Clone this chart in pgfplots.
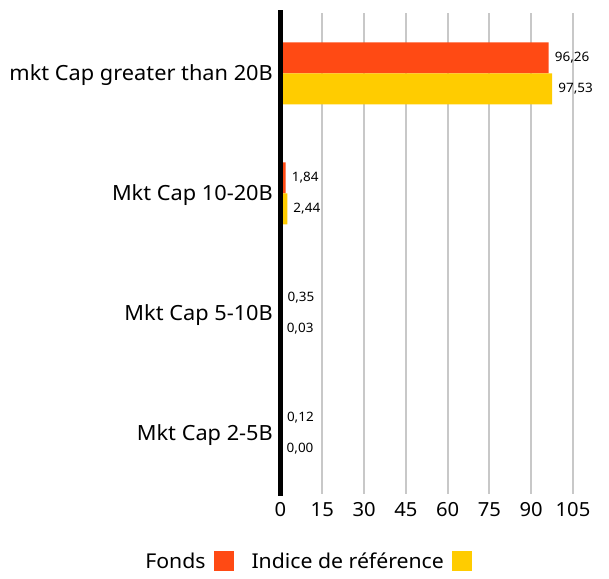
\documentclass[border=0pt]{standalone}
\usepackage{fontspec}
\setmainfont{Noto Sans}[FakeStretch=1.04]
\usepackage{pgfplots}
\pgfplotsset{compat=1.18}
\definecolor{fonds}{RGB}{255,74,20}
\definecolor{indice}{RGB}{255,204,0}
\definecolor{gridc}{RGB}{200,200,200}
\begin{document}
\begin{tikzpicture}
\useasboundingbox (0,0) rectangle (609bp,579bp);
\begin{axis}[
  at={(280.5bp,85.5bp)}, anchor=south west,
  scale only axis, width=292.5bp, height=480bp,
  xmin=0, xmax=105, ymin=-0.5, ymax=3.5,
  xtick={0,15,...,105}, ytick={0,1,2,3},
  yticklabels={Mkt Cap 2-5B, Mkt Cap 5-10B, Mkt Cap 10-20B, mkt Cap greater than 20B},
  /pgf/number format/assume math mode=true,
  xmajorgrids, grid style={gridc, line width=2bp},
  major tick length=0pt,
  axis line style={draw=none},
  clip=false,
  xbar, bar width=31bp,
  xticklabel style={font=\fontsize{19.5}{19.5}\selectfont, inner sep=0pt, anchor=north, yshift=-9bp},
  yticklabel style={font=\fontsize{21}{21}\selectfont, inner sep=0pt, anchor=base east, xshift=-7.5bp, yshift=-7.5bp},
  point meta=x,
  nodes near coords={\pgfmathprintnumber[fixed, fixed zerofill, precision=2, use comma, assume math mode=true]{\pgfplotspointmeta}},
  every node near coord/.append style={font=\fontsize{13}{13}\selectfont, anchor=west, inner sep=0pt, xshift=6bp, text=black},
  legend style={at={(-0.463,-0.1406)}, anchor=west, draw=none, fill=none, inner sep=0pt,
    font=\fontsize{20.5}{20.5}\selectfont, nodes={inner sep=0pt},
    legend columns=2,
    /tikz/every odd column/.append style={column sep=8bp},
    /tikz/every even column/.append style={column sep=18bp}},
  legend plot pos=right,
  legend image code/.code={\fill[#1] (0bp,-10bp) rectangle (20bp,10bp);},
]
\addplot[fill=fonds, draw=none, bar shift=15.5bp] coordinates {
  (96.26,3) (1.84,2) (0.35,1) (0.12,0)
};
\addplot[fill=indice, draw=none, bar shift=-15.5bp] coordinates {
  (97.53,3) (2.44,2) (0.03,1) (0.00,0)
};
\legend{Fonds, Indice de référence}
\draw[black, line width=4bp] ([yshift=3bp]axis cs:0,3.5) -- ([yshift=-2.5bp]axis cs:0,-0.5);
\end{axis}
\end{tikzpicture}
\end{document}
